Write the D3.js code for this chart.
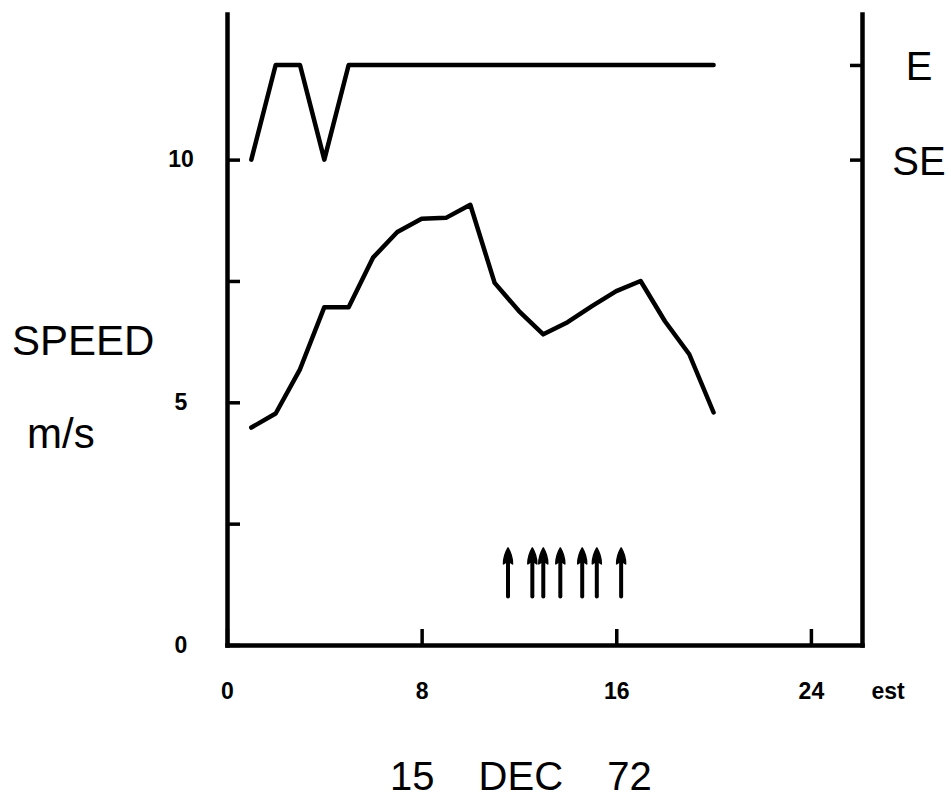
<!DOCTYPE html>
<html>
<head>
<meta charset="utf-8">
<script src="https://cdn.jsdelivr.net/npm/d3@7"></script>
<title>15 DEC 72</title>
<style>
body { margin: 0; background: #fff; }
text { font-family: "Liberation Sans", Arial, sans-serif; fill: #000; }
</style>
</head>
<body>
<script>

// hours (est) and wind speed in m/s
var hours = [1, 2, 3, 4, 5, 6, 7, 8, 9, 10, 11, 12, 13, 14, 15, 16, 17, 18, 19, 20];
var speed = [4.48, 4.77, 5.68, 6.96, 6.96, 7.98, 8.51, 8.78, 8.8, 9.07,
             7.46, 6.88, 6.4, 6.65, 6.98, 7.29, 7.5, 6.67, 5.99, 4.79];
// wind direction for the same hours
var direction = ["SE", "E", "E", "SE", "E", "E", "E", "E", "E", "E",
                 "E", "E", "E", "E", "E", "E", "E", "E", "E", "E"];
var dirLabels = ["SE", "E"];
// times of the arrow marks
var arrowTimes = [11.55, 12.55, 13.0, 13.7, 14.6, 15.2, 16.2];
var xTicks = [0, 8, 16, 24];
var yTicks = [0, 2.5, 5, 7.5, 10];

var width = 951,
    height = 799;

var svg = d3.select("body")
  .append("svg")
  .attr("width", width)
  .attr("height", height);

var x = d3.scaleLinear().domain([0, 26.1]).range([227, 862]);
var y = d3.scaleLinear().domain([0, 13]).range([645, 14]);
var dir = d3.scalePoint().domain(dirLabels).range([y(10), y(11.95)]);

function styleAxis(g) {
  g.select(".domain").attr("stroke-width", 4.5).attr("stroke-linecap", "square");
  g.selectAll(".tick line").attr("stroke-width", 3.5);
}

// left axis
var gl = svg.append("g")
  .attr("transform", "translate(" + x(0) + ",0)")
  .call(d3.axisLeft(y).tickValues(yTicks).tickSizeInner(-13).tickSizeOuter(0)
    .tickFormat(function(d) { return d % 5 === 0 ? d : ""; }))
  .call(styleAxis);
gl.selectAll(".tick text")
  .attr("x", -46)
  .attr("text-anchor", "middle")
  .attr("font-size", 23)
  .attr("font-weight", "bold")
  .attr("font-family", "Liberation Sans, Arial, sans-serif");

// bottom axis
var gb = svg.append("g")
  .attr("transform", "translate(0," + y(0) + ")")
  .call(d3.axisBottom(x).tickValues(xTicks).tickSizeInner(-16).tickSizeOuter(0).tickPadding(38))
  .call(styleAxis);
gb.selectAll(".tick text")
  .attr("font-size", 23)
  .attr("font-weight", "bold")
  .attr("font-family", "Liberation Sans, Arial, sans-serif");
gb.append("text")
  .attr("x", 888)
  .attr("y", 38)
  .attr("dy", "0.71em")
  .attr("text-anchor", "middle")
  .attr("font-size", 23)
  .attr("font-weight", "bold")
  .text("est");

// right axis line and direction ticks
svg.append("g")
  .attr("transform", "translate(" + x.range()[1] + ",0)")
  .call(d3.axisRight(y).tickValues([]).tickSizeOuter(0))
  .call(styleAxis);
var gr = svg.append("g")
  .attr("transform", "translate(" + x.range()[1] + ",0)")
  .call(d3.axisRight(dir).tickSizeInner(-12).tickSizeOuter(0));
gr.select(".domain").remove();
gr.selectAll(".tick line").attr("stroke-width", 3.5);
gr.selectAll(".tick text")
  .attr("x", 57)
  .attr("dy", "0.36em")
  .attr("text-anchor", "middle")
  .attr("font-size", 40)
  .attr("font-family", "Liberation Sans, Arial, sans-serif");

// speed line
svg.append("path")
  .datum(hours)
  .attr("fill", "none")
  .attr("stroke", "#000")
  .attr("stroke-width", 4.5)
  .attr("stroke-linejoin", "round")
  .attr("stroke-linecap", "round")
  .attr("d", d3.line()
    .x(function(d) { return x(d); })
    .y(function(d, i) { return y(speed[i]); }));

// direction line
svg.append("path")
  .datum(hours)
  .attr("fill", "none")
  .attr("stroke", "#000")
  .attr("stroke-width", 4.5)
  .attr("stroke-linejoin", "round")
  .attr("stroke-linecap", "round")
  .attr("d", d3.line()
    .x(function(d) { return x(d); })
    .y(function(d, i) { return dir(direction[i]); }));

// arrows
var arrows = svg.selectAll(".arrow")
  .data(arrowTimes)
  .enter()
  .append("g")
  .attr("class", "arrow")
  .attr("transform", function(d) { return "translate(" + x(d) + ",0)"; });
arrows.append("line")
  .attr("y1", y(2) + 8)
  .attr("y2", y(1))
  .attr("stroke", "#000")
  .attr("stroke-width", 4)
  .attr("stroke-linecap", "round");
arrows.append("path")
  .attr("fill", "#000")
  .attr("d", "M0," + y(2) + " C3,"  + (y(2) + 5) + " 4.5," + (y(2) + 12) + " 4.5," + (y(2) + 16) +
    " L0," + (y(2) + 13) + " L-4.5," + (y(2) + 16) +
    " C-4.5," + (y(2) + 12) + " -3," + (y(2) + 5) + " 0," + y(2) + " Z")
  .attr("stroke", "#000")
  .attr("stroke-width", 1.5)
  .attr("stroke-linejoin", "round");

// labels
svg.append("text")
  .attr("x", 12)
  .attr("y", 355)
  .attr("font-size", 42)
  .text("SPEED");
svg.append("text")
  .attr("x", 27)
  .attr("y", 448)
  .attr("font-size", 42)
  .text("m/s");
svg.append("text")
  .attr("x", 390)
  .attr("y", 790)
  .attr("font-size", 40)
  .attr("word-spacing", "33px")
  .text("15 DEC 72");

</script>
</body>
</html>
